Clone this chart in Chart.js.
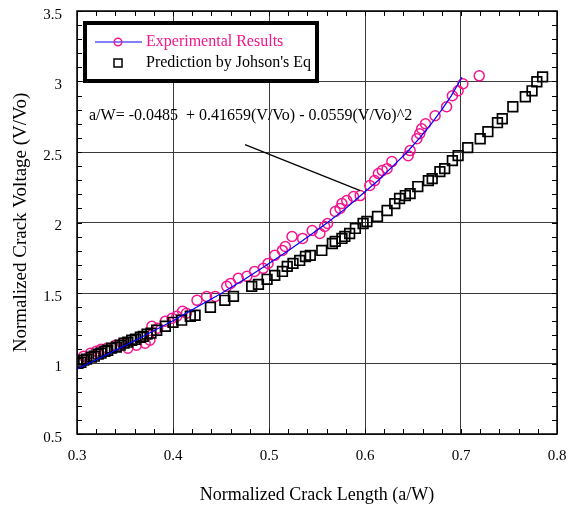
<!DOCTYPE html>
<html>
<head>
<meta charset="utf-8">
<script src="https://cdn.jsdelivr.net/npm/chart.js@4.4.1/dist/chart.umd.min.js"></script>
<style>
    html, body { margin: 0; padding: 0; background: #fff; }
</style>
</head>
<body>
<canvas id="crackChart" width="569" height="509"></canvas>
<script>
// ========================================
// DADOS
// ========================================

const seriesNames = ['Experimental Results', "Prediction by Johson's Eq"];

// circulos rosa - resultados experimentais
const expX = [0.303, 0.307, 0.314, 0.320, 0.325, 0.331, 0.340, 0.347, 0.353, 0.362, 0.371, 0.376, 0.378, 0.384, 0.392, 0.399,
    0.404, 0.410, 0.414, 0.425, 0.435, 0.444, 0.456, 0.460, 0.468, 0.477, 0.485, 0.494, 0.499, 0.506, 0.514, 0.517,
    0.524, 0.535, 0.545, 0.553, 0.558, 0.561, 0.569, 0.574, 0.576, 0.581, 0.588, 0.595, 0.605, 0.610, 0.614, 0.618,
    0.623, 0.628, 0.645, 0.647, 0.654, 0.657, 0.659, 0.663, 0.673, 0.685, 0.691, 0.697, 0.702, 0.719];
const expY = [1.009, 1.052, 1.073, 1.087, 1.101, 1.108, 1.130, 1.144, 1.108, 1.130, 1.144, 1.165, 1.264, 1.250, 1.300, 1.321,
    1.335, 1.370, 1.356, 1.448, 1.476, 1.476, 1.547, 1.568, 1.604, 1.618, 1.653, 1.675, 1.710, 1.767, 1.802, 1.830,
    1.901, 1.887, 1.943, 1.922, 1.972, 1.993, 2.078, 2.099, 2.135, 2.156, 2.184, 2.191, 2.262, 2.297, 2.347, 2.368,
    2.382, 2.432, 2.474, 2.510, 2.594, 2.630, 2.665, 2.700, 2.757, 2.821, 2.899, 2.934, 2.984, 3.040];

// linha azul - ajuste
const fitX = [0.300, 0.312, 0.342, 0.371, 0.399, 0.425, 0.451, 0.475, 0.498, 0.520, 0.541, 0.561, 0.580, 0.597,
    0.614, 0.629, 0.644, 0.657, 0.669, 0.680, 0.690, 0.701];
const fitY = [0.96, 1.0, 1.1, 1.2, 1.3, 1.4, 1.5, 1.6, 1.7, 1.8, 1.9, 2.0, 2.1, 2.2, 2.3, 2.4, 2.5, 2.6, 2.7, 2.8, 2.9, 3.03];

// quadrados pretos - previsao
const predX = [0.301, 0.304, 0.307, 0.310, 0.315, 0.318, 0.322, 0.325, 0.329, 0.332, 0.336, 0.341, 0.345, 0.349, 0.353,
    0.357, 0.361, 0.366, 0.369, 0.373, 0.377, 0.383, 0.392, 0.400, 0.409, 0.418, 0.423, 0.439, 0.454, 0.463, 0.482,
    0.489, 0.498, 0.506, 0.514, 0.519, 0.525, 0.532, 0.538, 0.543, 0.555, 0.566, 0.569, 0.576, 0.579, 0.584, 0.590,
    0.598, 0.602, 0.613, 0.623, 0.631, 0.636, 0.642, 0.647, 0.655, 0.666, 0.670, 0.678, 0.683, 0.691, 0.697, 0.707,
    0.720, 0.728, 0.738, 0.743, 0.754, 0.767, 0.774, 0.779, 0.785];
const predY = [1.002, 1.009, 1.024, 1.031, 1.045, 1.052, 1.066, 1.073, 1.087, 1.094, 1.109, 1.116, 1.130, 1.144, 1.151,
    1.165, 1.172, 1.186, 1.193, 1.208, 1.215, 1.236, 1.264, 1.292, 1.307, 1.335, 1.342, 1.399, 1.448, 1.476, 1.547,
    1.561, 1.597, 1.625, 1.653, 1.689, 1.710, 1.731, 1.759, 1.767, 1.802, 1.851, 1.866, 1.887, 1.901, 1.922, 1.958,
    1.993, 2.007, 2.043, 2.085, 2.134, 2.170, 2.191, 2.205, 2.255, 2.297, 2.311, 2.361, 2.382, 2.439, 2.474, 2.531,
    2.594, 2.644, 2.708, 2.736, 2.821, 2.892, 2.934, 2.998, 3.033];

const xTickLabels = ['0.3', '0.4', '0.5', '0.6', '0.7', '0.8'];
const yTickLabels = ['0.5', '1', '1.5', '2', '2.5', '3', '3.5'];

const fitText = 'a/W= -0.0485  + 0.41659(V/Vo) - 0.0559(V/Vo)^2';
const fitTextAt = [0.3125, 2.757];
const arrowFrom = [0.475, 2.552];
const arrowTo = [0.595, 2.226];

const PINK = '#f5168c';
const SERIF = "'Liberation Serif', 'Times New Roman', serif";

function toPoints(xs, ys) {
    return xs.map((v, i) => ({ x: v, y: ys[i] }));
}

// ========================================
// MOLDURA, TICKS MENORES, LEGENDA, EQUACAO
// ========================================

const framePlugin = {
    id: 'frame',
    afterDraw(chart) {
        const { ctx, chartArea: a, scales: { x, y } } = chart;
        ctx.save();

        // ticks menores para dentro
        ctx.strokeStyle = '#000';
        ctx.lineWidth = 1;
        ctx.beginPath();
        for (let i = 0; i <= 25; i++) {
            const px = Math.round(x.getPixelForValue(0.3 + i * 0.02)) + 0.5;
            ctx.moveTo(px, a.bottom); ctx.lineTo(px, a.bottom - 5);
            ctx.moveTo(px, a.top); ctx.lineTo(px, a.top + 5);
        }
        for (let i = 0; i <= 30; i++) {
            const py = Math.round(y.getPixelForValue(0.5 + i * 0.1)) + 0.5;
            ctx.moveTo(a.left, py); ctx.lineTo(a.left + 5, py);
            ctx.moveTo(a.right, py); ctx.lineTo(a.right - 5, py);
        }
        ctx.stroke();

        // moldura
        ctx.lineWidth = 1.5;
        ctx.strokeRect(a.left, a.top, a.right - a.left, a.bottom - a.top);

        // equacao e seta
        ctx.font = '16px ' + SERIF;
        ctx.fillStyle = '#000';
        ctx.textBaseline = 'middle';
        ctx.textAlign = 'left';
        ctx.fillText(fitText, x.getPixelForValue(fitTextAt[0]), y.getPixelForValue(fitTextAt[1]));
        ctx.lineWidth = 1.2;
        ctx.beginPath();
        ctx.moveTo(x.getPixelForValue(arrowFrom[0]), y.getPixelForValue(arrowFrom[1]));
        ctx.lineTo(x.getPixelForValue(arrowTo[0]), y.getPixelForValue(arrowTo[1]));
        ctx.stroke();

        // legenda com borda grossa
        const bx = a.left + 8, by = a.top + 12, bw = 232, bh = 58;
        ctx.fillStyle = '#fff';
        ctx.fillRect(bx, by, bw, bh);
        ctx.lineWidth = 4;
        ctx.strokeStyle = '#000';
        ctx.strokeRect(bx, by, bw, bh);

        const row1 = by + 19, row2 = by + 40;
        ctx.strokeStyle = '#0000ff';
        ctx.lineWidth = 1.2;
        ctx.beginPath();
        ctx.moveTo(bx + 10, row1); ctx.lineTo(bx + 57, row1);
        ctx.stroke();
        ctx.strokeStyle = PINK;
        ctx.lineWidth = 1.5;
        ctx.beginPath();
        ctx.arc(bx + 33, row1, 3.8, 0, Math.PI * 2);
        ctx.stroke();

        ctx.strokeStyle = '#000';
        ctx.lineWidth = 1.5;
        ctx.strokeRect(bx + 29, row2 - 4, 8, 8);

        ctx.font = '16px ' + SERIF;
        ctx.fillStyle = PINK;
        ctx.fillText(seriesNames[0], bx + 61, row1);
        ctx.fillStyle = '#000';
        ctx.fillText(seriesNames[1], bx + 61, row2);

        ctx.restore();
    }
};

// ========================================
// GRAFICO
// ========================================

function loadChart() {
    const canvas = document.getElementById('crackChart');
    if (!canvas) return;

    new Chart(canvas, {
        type: 'scatter',
        data: {
            datasets: [
                {
                    label: 'fit',
                    data: toPoints(fitX, fitY),
                    showLine: true,
                    borderColor: '#0000ff',
                    borderWidth: 1.2,
                    pointRadius: 0,
                    fill: false,
                    order: 0
                },
                {
                    label: seriesNames[1],
                    data: toPoints(predX, predY),
                    pointStyle: 'rect',
                    pointRadius: 6.8,
                    borderColor: '#000',
                    backgroundColor: 'rgba(0,0,0,0)',
                    borderWidth: 1.7,
                    order: 1
                },
                {
                    label: seriesNames[0],
                    data: toPoints(expX, expY),
                    pointStyle: 'circle',
                    pointRadius: 5,
                    borderColor: PINK,
                    backgroundColor: 'rgba(0,0,0,0)',
                    borderWidth: 1.5,
                    order: 2
                }
            ]
        },
        options: {
            responsive: false,
            animation: false,
            layout: { padding: { top: 11, right: 12, left: 0, bottom: 0 } },
            plugins: {
                legend: { display: false },
                tooltip: { enabled: false }
            },
            scales: {
                x: {
                    type: 'linear',
                    min: 0.3,
                    max: 0.8,
                    afterFit: s => { s.height = 75; s.paddingLeft = 0; s.paddingRight = 0; },
                    ticks: {
                        stepSize: 0.1,
                        padding: 13,
                        color: '#000',
                        font: { family: SERIF, size: 15 },
                        maxRotation: 0,
                        callback: (v, i) => xTickLabels[i]
                    },
                    grid: { color: '#3a3a3a', lineWidth: 1, drawTicks: false },
                    border: { display: false },
                    title: {
                        display: true,
                        text: 'Normalized Crack Length (a/W)',
                        color: '#000',
                        font: { family: SERIF, size: 18 },
                        padding: { top: 0, bottom: 3 }
                    }
                },
                y: {
                    type: 'linear',
                    min: 0.5,
                    max: 3.5,
                    afterFit: s => { s.width = 77; s.paddingTop = 0; s.paddingBottom = 0; },
                    ticks: {
                        stepSize: 0.5,
                        padding: 15,
                        labelOffset: 4,
                        color: '#000',
                        font: { family: SERIF, size: 15 },
                        callback: (v, i) => yTickLabels[i]
                    },
                    grid: { color: '#3a3a3a', lineWidth: 1, drawTicks: false },
                    border: { display: false },
                    title: {
                        display: true,
                        text: 'Normalized Crack Voltage (V/Vo)',
                        color: '#000',
                        font: { family: SERIF, size: 19 },
                        padding: { top: 10, bottom: 0 }
                    }
                }
            }
        },
        plugins: [framePlugin]
    });
}

document.addEventListener('DOMContentLoaded', loadChart);
</script>
</body>
</html>
